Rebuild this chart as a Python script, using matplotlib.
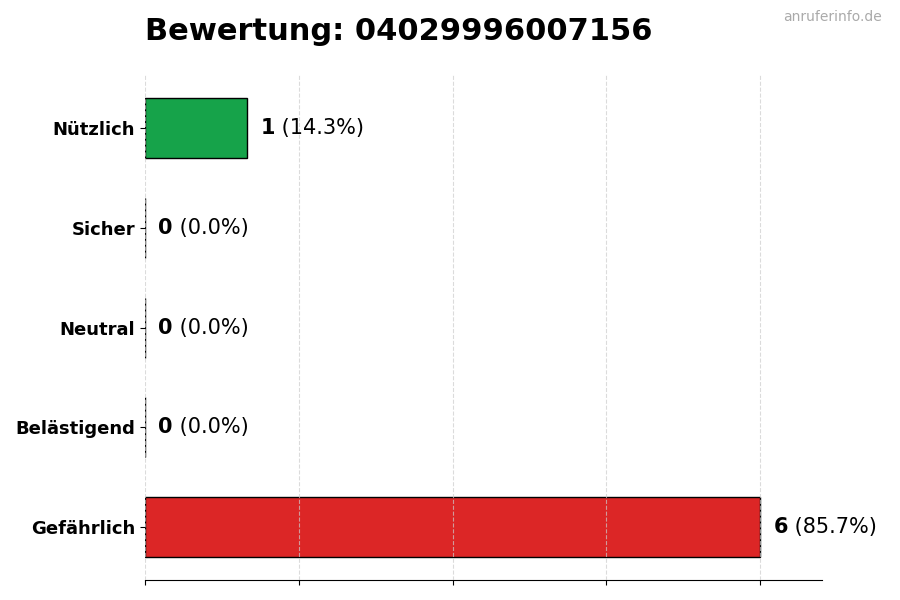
import matplotlib
matplotlib.use("Agg")
import matplotlib.pyplot as plt

categories = ["Nützlich", "Sicher", "Neutral", "Belästigend", "Gefährlich"]
counts = [1, 0, 0, 0, 6]
colors = ["#16a34a", "#9ca3af", "#6b7280", "#f59e0b", "#dc2626"]
title = "Bewertung: 04029996007156"
watermark = "anruferinfo.de"

total = sum(counts)

fig = plt.figure(figsize=(9, 6), dpi=100)
ax = fig.add_axes([0.161, 0.033, 0.752, 0.842])

ypos = list(range(len(categories)))[::-1]
ax.barh(ypos, counts, height=0.6, color=colors, edgecolor="black", linewidth=1.0)

ax.set_yticks(ypos)
ax.set_yticklabels(categories, fontsize=13, fontweight="bold")
ax.set_xlim(0, max(counts) * 1.1)
ax.set_xticks([0, 1.5, 3, 4.5, 6])
ax.set_xticklabels([])

ax.grid(axis="x", linestyle="--", color="#cccccc", linewidth=0.8, alpha=0.7)
ax.set_axisbelow(False)
for s in ["top", "right", "left"]:
    ax.spines[s].set_visible(False)

# value labels: bold count, then the percentage in normal weight
for y, c in zip(ypos, counts):
    pct = c / total * 100
    t = ax.text(c + 0.13, y, str(c), fontsize=15, fontweight="bold", va="center", ha="left")
    ax.annotate(" (%.1f%%)" % pct, xy=(1, 0.5), xycoords=t, fontsize=15,
                va="center", ha="left")

fig.text(0.161, 0.948, title, fontsize=22, fontweight="bold", ha="left", va="center")
fig.text(0.98, 0.971, watermark, fontsize=10, color="#aaaaaa", ha="right", va="center")

plt.savefig("out.png", dpi=100)
